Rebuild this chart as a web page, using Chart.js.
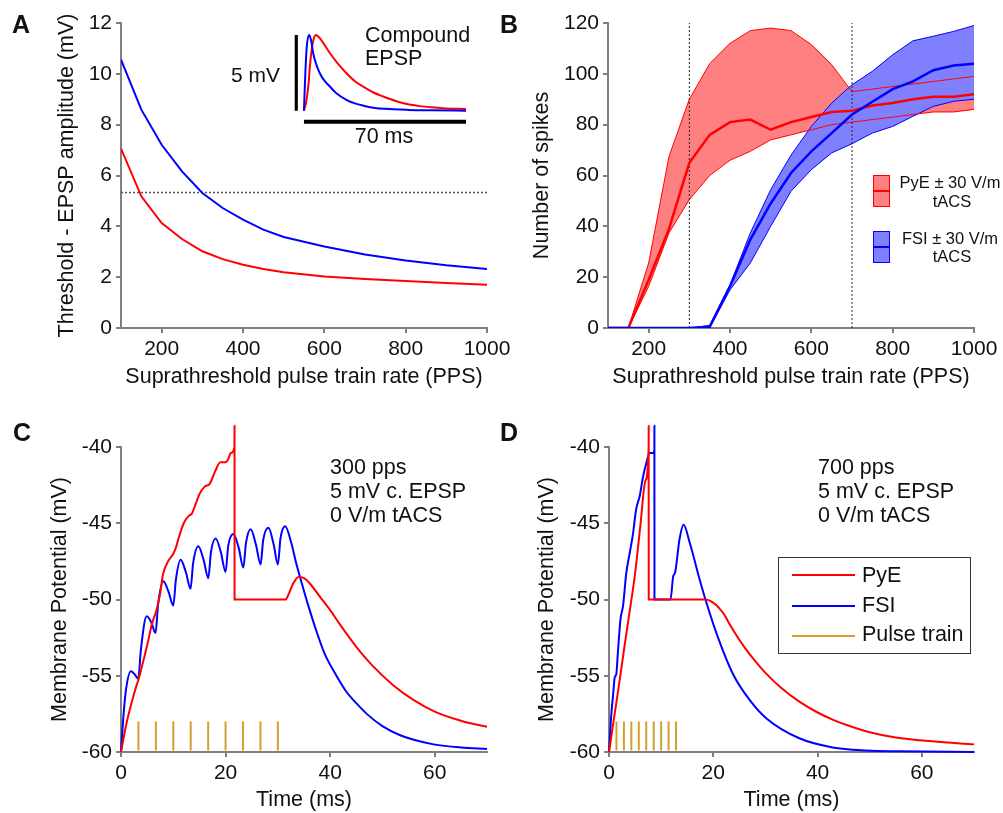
<!DOCTYPE html>
<html>
<head>
<meta charset="utf-8">
<script src="https://cdn.jsdelivr.net/npm/chart.js@4.4.0/dist/chart.umd.min.js"></script>
<style>
body { margin: 0; background: #fff; }
#fig { position: relative; width: 1003px; height: 813px; overflow: hidden;
       font-family: "Liberation Sans", Arial, sans-serif; color: #111; }
#fig canvas { position: absolute; left: 0; top: 0; }
.lbl { position: absolute; white-space: nowrap; line-height: 1; }
.patch { position: absolute; width: 17px; height: 32px; box-sizing: border-box; }
.patch::after { content: ''; position: absolute; left: 0; right: 0; top: 14px; height: 2px; background: currentColor; }
#legD { position: absolute; left: 778px; top: 557px; width: 193px; height: 97px;
        box-sizing: border-box; border: 1px solid #333; }
.swatch { position: absolute; left: 792px; width: 63px; height: 2px; }
</style>
</head>
<body>
<div id="fig">
  <canvas id="chartA" width="1003" height="813"></canvas>
  <canvas id="chartInset" width="1003" height="813"></canvas>
  <canvas id="chartB" width="1003" height="813"></canvas>
  <canvas id="chartC" width="1003" height="813"></canvas>
  <canvas id="chartD" width="1003" height="813"></canvas>
  <div class="patch" style="left:873px;top:175px;background:#ff8080;border:1px solid #ff0000;color:#ff0000"></div>
  <div class="patch" style="left:873px;top:231px;background:#8080ff;border:1px solid #0000ff;color:#0000ff"></div>
  <div id="legD"></div>
  <div class="swatch" style="top:574px;background:#ff0000"></div>
  <div class="swatch" style="top:605px;background:#0000ff"></div>
  <div class="swatch" style="top:635px;background:#d1a22b"></div>
</div>
<script>
/* ---------- A: threshold minus EPSP amplitude ---------- */
const rateA = [100, 150, 200, 250, 300, 350, 400, 450, 500, 600, 700, 800, 900, 1000];
const pyeGapA = [7.06, 5.18, 4.13, 3.50, 3.02, 2.71, 2.49, 2.32, 2.19, 2.03, 1.93, 1.85, 1.77, 1.70];
const fsiGapA = [10.56, 8.59, 7.21, 6.16, 5.31, 4.72, 4.26, 3.87, 3.58, 3.21, 2.89, 2.66, 2.47, 2.32];
const thresholdA = 5.33;
const ticksAx = [200, 400, 600, 800, 1000];
const ticksAy = [0, 2, 4, 6, 8, 10, 12];

/* inset: compound EPSP shapes */
const epspTimeFsi = [0, 0.6, 1.2, 2.2, 3, 4, 5, 6.9, 9, 11.3, 14, 18.5, 22, 25.7, 30, 35, 45, 55, 70];
const epspFsi = [0, 2.5, 4.2, 5.0, 4.7, 3.8, 3.2, 2.46, 1.95, 1.58, 1.15, 0.70, 0.48, 0.33, 0.2, 0.12, 0.05, 0.02, 0];
const epspTimePye = [0, 1, 2, 2.6, 3.5, 4.3, 5.2, 6.5, 8, 11.3, 15, 18.5, 22, 25.7, 30, 34, 40, 45, 50, 55, 60, 70];
const epspPye = [0, 0.6, 1.8, 3.0, 4.2, 4.8, 5.0, 4.85, 4.55, 3.78, 3.05, 2.46, 1.95, 1.58, 1.2, 0.95, 0.62, 0.42, 0.3, 0.22, 0.16, 0.11];
const scaleBarMs = 70, scaleBarMv = 5;

/* ---------- B: number of spikes ---------- */
const rateB = [100, 150, 200, 250, 300, 350, 400, 450, 500, 550, 600, 650, 700, 750, 800, 850, 900, 950, 1000];
const pyeMean  = [0, 0, 19, 39, 65, 76, 81, 82, 78, 81, 83, 85, 85.5, 87.5, 88.5, 90, 91, 91, 92];
const pyeUpper = [0, 0, 25.6, 67.5, 90, 104, 112, 117, 118, 117, 111.5, 103.6, 93, 94, 95, 96, 97, 98, 99];
const pyeLower = [0, 0, 16.4, 37.4, 50.5, 60, 66, 69.5, 74, 76, 78, 80, 81, 82, 83, 84, 85, 85, 86];
const fsiMean  = [0, 0, 0, 0, 0, 0.5, 16.4, 34.8, 49, 61, 69.5, 76.7, 84, 89, 94, 97, 101.4, 103.3, 104];
const fsiUpper = [0, 0, 0, 0, 0, 1, 17, 37.4, 54.4, 68, 79.3, 88.5, 95.7, 101, 107.5, 113, 114.8, 116.7, 119];
const fsiLower = [0, 0, 0, 0, 0, 0, 15, 25.6, 40, 53.8, 62.3, 68.9, 72.5, 76.7, 79.3, 83.3, 87.2, 89.2, 90];
const markRates = [300, 700];
const ticksBx = [200, 400, 600, 800, 1000];
const ticksBy = [0, 20, 40, 60, 80, 100, 120];

/* ---------- C: 300 pps traces ---------- */
const tPyeC = [0, 1, 2, 3, 3.3, 4, 5, 6, 6.7, 7.5, 8, 9, 10, 10.5, 11, 12, 13, 13.5, 14, 15, 16, 17, 18, 19, 20, 20.5, 21, 21.7, 21.71, 21.72, 31.5, 32, 33, 34, 35, 36, 38, 40, 42, 45, 48, 52, 56, 60, 65, 70];
const vPyeC = [-60, -58.2, -56.8, -55.6, -55.3, -54.4, -53.0, -51.5, -50.8, -49.6, -48.4, -47.5, -47.0, -46.6, -46.0, -45.0, -44.5, -44.4, -44.0, -43.1, -42.6, -42.4, -41.6, -41.0, -41.0, -40.8, -40.4, -40.0, -38.6, -50, -50, -49.7, -48.9, -48.5, -48.6, -48.9, -49.8, -50.7, -51.7, -53.1, -54.3, -55.6, -56.6, -57.35, -57.95, -58.35];
const tFsiC = [0, 0.5, 1, 1.9, 2.6, 3.3, 3.8, 4.9, 5.8, 6.6, 7.1, 8.1, 9.1, 10, 10.5, 11.4, 12.4, 13.3, 13.8, 14.8, 15.8, 16.7, 17.2, 18.1, 19.1, 20, 20.5, 21.5, 22.5, 23.4, 23.9, 24.8, 25.8, 26.7, 27.2, 28.2, 29.2, 30, 30.5, 31.4, 32.5, 33.5, 34.3, 36, 37.5, 39, 40.7, 43, 45, 47, 50, 53.4, 56, 59.8, 65, 70];
const vFsiC = [-60, -57.5, -55.8, -54.7, -54.9, -55.2, -53.3, -51.1, -51.5, -52.2, -50.3, -48.8, -49.5, -50.4, -48.7, -47.4, -48.2, -49.3, -47.6, -46.5, -47.4, -48.6, -46.9, -46.0, -46.9, -48.2, -46.5, -45.7, -46.6, -47.9, -46.3, -45.4, -46.4, -47.7, -46.1, -45.3, -46.4, -47.7, -46.0, -45.2, -46.2, -47.6, -48.6, -50.6, -52.2, -53.6, -54.7, -56.0, -56.8, -57.5, -58.3, -58.9, -59.2, -59.5, -59.7, -59.8];
const pulsesC = [3.33, 6.67, 10, 13.33, 16.67, 20, 23.33, 26.67, 30];

/* ---------- D: 700 pps traces ---------- */
const tPyeD = [0, 1, 2, 3, 4, 5, 6, 7, 7.6, 7.61, 7.62, 18.5, 19.5, 20.5, 21.2, 22, 23, 24, 26, 28, 30, 33, 36.5, 40, 43, 46, 50, 55, 62, 70];
const vPyeD = [-60, -57.7, -55.4, -53.0, -50.7, -48.3, -45.2, -42.2, -40.0, -38.6, -50, -50, -50.1, -50.35, -50.6, -50.93, -51.54, -52.11, -53.14, -54.03, -54.81, -55.79, -56.7, -57.41, -57.89, -58.28, -58.7, -59.05, -59.3, -59.5];
const tFsiD = [0, 0.45, 0.8, 1.1, 1.4, 1.7, 2.2, 2.7, 3.3, 4.0, 4.6, 5.2, 5.9, 6.5, 7.2, 7.8, 8.4, 8.7, 8.71, 8.72, 11.8, 12.3, 12.7, 13.5, 14.3, 15.5, 17.4, 18.5, 20.6, 23.8, 27, 30.2, 36.5, 42.9, 49.3, 55.7, 70];
const vFsiD = [-60, -57.5, -56.2, -55.1, -54.9, -53.5, -51.3, -50.4, -48.3, -46.9, -45.7, -44.1, -43.2, -42.0, -41.0, -40.4, -40.4, -40.2, -38.6, -50, -50, -48.5, -48.2, -46.1, -45.1, -46.3, -48.7, -50.0, -52.2, -54.9, -56.6, -57.8, -59.1, -59.7, -59.9, -59.95, -60];
const pulsesD = [1.43, 2.86, 4.29, 5.71, 7.14, 8.57, 10, 11.43, 12.86];
const pulseBase = -59.9, pulseTop = -58;

const ticksTime = [0, 20, 40, 60];
const ticksVm = [-60, -55, -50, -45, -40];

/* ---------- styling ---------- */
const RED = '#ff0000', BLUE = '#0000ff', GOLD = '#d1a22b', AXIS = '#808080';
Chart.defaults.font.family = '"Liberation Sans", Arial, sans-serif';
Chart.defaults.font.size = 21.5;
Chart.defaults.color = '#111';
Chart.defaults.animation = false;
Chart.defaults.plugins.legend.display = false;
Chart.defaults.plugins.tooltip.enabled = false;
Chart.defaults.elements.point.radius = 0;
Chart.defaults.elements.line.capBezierPoints = false;

const pts = (xs, ys) => xs.map((x, i) => ({x: x, y: ys[i]}));
const pulseSegs = times => times.flatMap(t => [{x: t, y: pulseBase}, {x: t, y: pulseTop}, {x: t, y: null}]);

// one axis; size = fixed width (y) or height (x) of the scale box
function axis(pos, min, max, ticks, size, title, titlePad) {
    return {
        type: 'linear', position: pos, min: min, max: max,
        afterBuildTicks: s => { s.ticks = ticks.map(v => ({value: v})); },
        afterFit: s => {
            if (pos === 'left') s.width = size; else s.height = size;
            s.paddingLeft = s.paddingRight = s.paddingTop = s.paddingBottom = 0;
        },
        grid: { display: true, drawOnChartArea: false, drawTicks: true, tickLength: 5, color: AXIS, lineWidth: 2 },
        border: { display: true, color: AXIS, width: 2 },
        ticks: { padding: 4, autoSkip: false, maxRotation: 0, font: { size: 21 }, callback: v => String(v) },
        title: { display: true, text: title, font: { size: 21.5 },
                 padding: pos === 'left' ? { top: titlePad, bottom: 0 } : { top: 0, bottom: titlePad } }
    };
}

function line(data, color, width, extra) {
    return Object.assign({ data: data, borderColor: color, borderWidth: width, fill: false, tension: 0 }, extra || {});
}

/* ---------- A ---------- */
new Chart(document.getElementById('chartA'), {
    type: 'line',
    data: { datasets: [
        line(pts(rateA, pyeGapA), RED, 2),
        line(pts(rateA, fsiGapA), BLUE, 2),
        line([{x: rateA[0], y: thresholdA}, {x: rateA[rateA.length - 1], y: thresholdA}], '#555', 1.5, { borderDash: [2, 2] })
    ]},
    options: {
        responsive: false,
        layout: { padding: { left: 0, right: 516, top: 23, bottom: 413 } },
        scales: {
            x: axis('bottom', 100, 1000, ticksAx, 72, 'Suprathreshold pulse train rate (PPS)', 10),
            y: axis('left', 0, 12, ticksAy, 121, 'Threshold - EPSP amplitude (mV)', 54)
        }
    }
});

/* inset */
new Chart(document.getElementById('chartInset'), {
    type: 'line',
    data: { datasets: [
        line(pts(epspTimeFsi, epspFsi), BLUE, 2, { cubicInterpolationMode: 'monotone' }),
        line(pts(epspTimePye, epspPye), RED, 2, { cubicInterpolationMode: 'monotone' }),
        line([{x: -3.5, y: 0}, {x: -3.5, y: scaleBarMv}], '#000', 4),
        line([{x: 0, y: -0.73}, {x: scaleBarMs, y: -0.73}], '#000', 4)
    ]},
    options: {
        responsive: false,
        layout: { padding: { left: 294.7, right: 537, top: 32, bottom: 687.2 } },
        scales: {
            x: { type: 'linear', min: -4, max: 70, display: false },
            y: { type: 'linear', min: -1, max: 5.2, display: false }
        }
    }
});

/* ---------- B ---------- */
new Chart(document.getElementById('chartB'), {
    type: 'line',
    data: { datasets: [
        line(pts(rateB, fsiMean), BLUE, 2.5),
        line(pts(rateB, pyeMean), RED, 2.5),
        line([{x: markRates[0], y: 0}, {x: markRates[0], y: 120}], '#222', 1, { borderDash: [2, 2] }),
        line([{x: markRates[1], y: 0}, {x: markRates[1], y: 120}], '#222', 1, { borderDash: [2, 2] }),
        line(pts(rateB, pyeUpper), RED, 1),
        line(pts(rateB, pyeLower), RED, 1),
        line(pts(rateB, fsiUpper), BLUE, 1),
        line(pts(rateB, fsiLower), BLUE, 1),
        line(pts(rateB, fsiUpper), 'rgba(0,0,0,0)', 0, { fill: '+1', backgroundColor: '#8080ff' }),
        line(pts(rateB, fsiLower), 'rgba(0,0,0,0)', 0),
        line(pts(rateB, pyeUpper), 'rgba(0,0,0,0)', 0, { fill: '+1', backgroundColor: '#ff8080' }),
        line(pts(rateB, pyeLower), 'rgba(0,0,0,0)', 0)
    ]},
    options: {
        responsive: false,
        layout: { padding: { left: 500, right: 29, top: 23, bottom: 413 } },
        scales: {
            x: axis('bottom', 100, 1000, ticksBx, 72, 'Suprathreshold pulse train rate (PPS)', 10),
            y: axis('left', 0, 120, ticksBy, 108, 'Number of spikes', 29)
        }
    }
});

/* ---------- C and D ---------- */
function traceChart(id, padLeft, padRight, yWidth, titlePad, tPye, vPye, tFsi, vFsi, pulses) {
    new Chart(document.getElementById(id), {
        type: 'line',
        data: { datasets: [
            line(pts(tPye, vPye), RED, 2, { cubicInterpolationMode: 'monotone', clip: false }),
            line(pts(tFsi, vFsi), BLUE, 2, { cubicInterpolationMode: 'monotone', clip: false }),
            line(pulseSegs(pulses), GOLD, 2, { spanGaps: false })
        ]},
        options: {
            responsive: false,
            layout: { padding: { left: padLeft, right: padRight, top: 447, bottom: 0 } },
            scales: {
                x: axis('bottom', 0, 70, ticksTime, 61, 'Time (ms)', 0),
                y: axis('left', -60, -40, ticksVm, yWidth, 'Membrane Potential (mV)', titlePad)
            }
        }
    });
}
traceChart('chartC', 0, 516, 121, 47, tPyeC, vPyeC, tFsiC, vFsiC, pulsesC);
traceChart('chartD', 500, 29, 109, 34, tPyeD, vPyeD, tFsiD, vFsiD, pulsesD);

/* ---------- text ---------- */
const texts = [
    { t: 'A', x: 12, y: 33, s: 25, w: 'bold' },
    { t: 'B', x: 500, y: 33, s: 25, w: 'bold' },
    { t: 'C', x: 13, y: 441, s: 25, w: 'bold' },
    { t: 'D', x: 500, y: 441, s: 25, w: 'bold' },
    { t: '5 mV', x: 280, y: 82, s: 21, a: 'right' },
    { t: 'Compound', x: 365, y: 43, s: 21.5 },
    { t: 'EPSP', x: 365, y: 66, s: 21.5 },
    { t: '70 ms', x: 384, y: 144, s: 21.5, a: 'center' },
    { t: '300 pps', x: 330, y: 475, s: 21.5 },
    { t: '5 mV c. EPSP', x: 330, y: 499, s: 21.5 },
    { t: '0 V/m tACS', x: 330, y: 523, s: 21.5 },
    { t: '700 pps', x: 818, y: 475, s: 21.5 },
    { t: '5 mV c. EPSP', x: 818, y: 499, s: 21.5 },
    { t: '0 V/m tACS', x: 818, y: 523, s: 21.5 },
    { t: 'PyE \u00b1 30 V/m', x: 950, y: 188, s: 16.5, a: 'center' },
    { t: 'tACS', x: 952, y: 206.5, s: 16.5, a: 'center' },
    { t: 'FSI \u00b1 30 V/m', x: 950, y: 244, s: 16.5, a: 'center' },
    { t: 'tACS', x: 952, y: 262, s: 16.5, a: 'center' },
    { t: 'PyE', x: 862, y: 583, s: 21.5 },
    { t: 'FSI', x: 862, y: 613, s: 21.5 },
    { t: 'Pulse train', x: 862, y: 642.5, s: 21.5 }
];
const fig = document.getElementById('fig');
texts.forEach(l => {
    const d = document.createElement('div');
    d.className = 'lbl';
    d.textContent = l.t;
    d.style.fontSize = l.s + 'px';
    d.style.left = l.x + 'px';
    d.style.top = (l.y - 0.847 * l.s) + 'px';
    if (l.w) d.style.fontWeight = l.w;
    if (l.a === 'center') d.style.transform = 'translateX(-50%)';
    if (l.a === 'right') d.style.transform = 'translateX(-100%)';
    fig.appendChild(d);
});
</script>
</body>
</html>
